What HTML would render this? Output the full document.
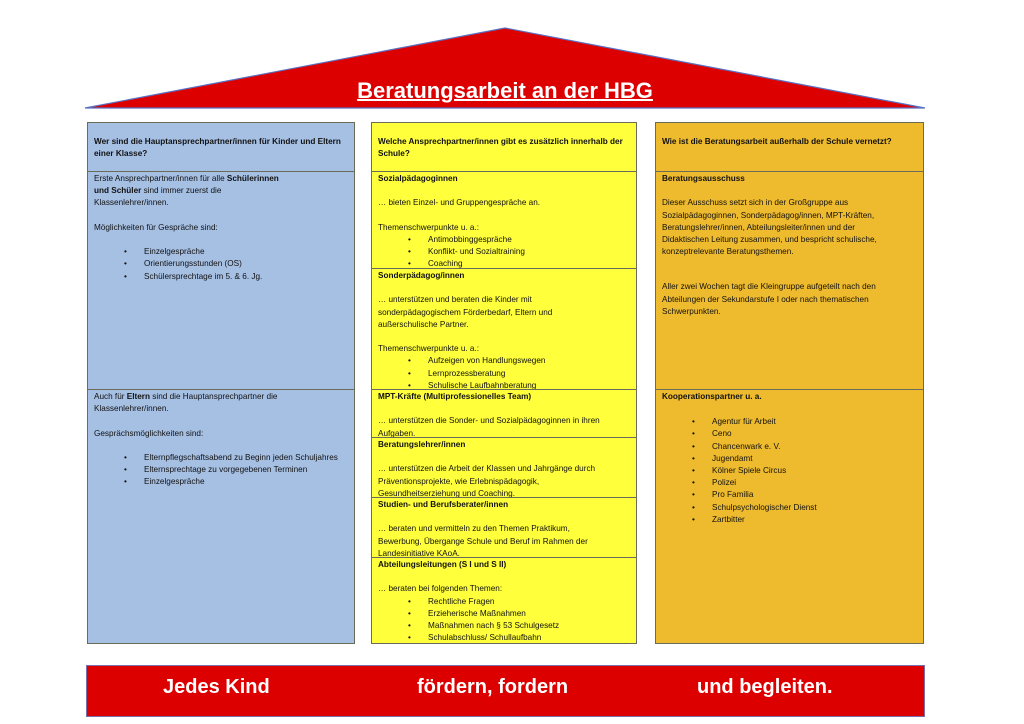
<!DOCTYPE html>
<html><head><meta charset="utf-8"><style>
body{margin:0;width:1024px;height:724px;background:#fff;position:relative;overflow:hidden;font-family:"Liberation Sans",sans-serif;color:#111}
.c{position:absolute;box-sizing:border-box;border:1px solid #6b6b5a;font-size:8.2px;line-height:12.2px;padding:1px 6px 0 6px;overflow:hidden}
.b{background:#a6c0e4}.y{background:#ffff3c}.o{background:#efbb2e}
.h{padding-top:13px;font-weight:bold}
b{font-weight:bold}
.li{position:relative;padding-left:50px}
.li:before{content:"•";position:absolute;left:30px}
.sp{height:12.2px}
.ban{position:absolute;left:86px;top:665px;width:839px;height:52px;background:#dd0000;border:1px solid #7a6fa8;box-sizing:border-box;color:#fff;font-weight:bold;font-size:20px}
.ban span{position:absolute;top:10px}
</style></head><body>
<svg width="1024" height="120" style="position:absolute;left:0;top:0">
<polygon points="85,108 505,28 925,108" fill="#dd0000" stroke="#5a6fc0" stroke-width="1.2"/>
</svg>
<div style="position:absolute;left:0;width:1010px;top:78px;text-align:center;color:#fff;font-weight:bold;font-size:22px;text-decoration:underline;text-decoration-thickness:2px">Beratungsarbeit an der HBG</div>

<!-- left -->
<div class="c b h" style="left:87px;top:122px;width:268px;height:50px">Wer sind die Hauptansprechpartner/innen für Kinder und Eltern einer Klasse?</div>
<div class="c b" style="left:87px;top:171px;width:268px;height:219px">Erste Ansprechpartner/innen für alle <b>Schülerinnen<br>und Schüler</b> sind immer zuerst die<br>Klassenlehrer/innen.<div class="sp"></div>Möglichkeiten für Gespräche sind:<div class="sp"></div><div class="li">Einzelgespräche</div><div class="li">Orientierungsstunden (OS)</div><div class="li">Schülersprechtage im 5. &amp; 6. Jg.</div></div>
<div class="c b" style="left:87px;top:389px;width:268px;height:255px">Auch für <b>Eltern</b> sind die Hauptansprechpartner die<br>Klassenlehrer/innen.<div class="sp"></div>Gesprächsmöglichkeiten sind:<div class="sp"></div><div class="li">Elternpflegschaftsabend zu Beginn jeden Schuljahres</div><div class="li">Elternsprechtage zu vorgegebenen Terminen</div><div class="li">Einzelgespräche</div></div>

<!-- middle -->
<div class="c y h" style="left:371px;top:122px;width:266px;height:50px">Welche Ansprechpartner/innen gibt es zusätzlich innerhalb der Schule?</div>
<div class="c y" style="left:371px;top:171px;width:266px;height:98px"><b>Sozialpädagoginnen</b><div class="sp"></div>… bieten Einzel- und Gruppengespräche an.<div class="sp"></div>Themenschwerpunkte u. a.:<div class="li">Antimobbinggespräche</div><div class="li">Konflikt- und Sozialtraining</div><div class="li">Coaching</div></div>
<div class="c y" style="left:371px;top:268px;width:266px;height:122px"><b>Sonderpädagog/innen</b><div class="sp"></div>… unterstützen und beraten die Kinder mit<br>sonderpädagogischem Förderbedarf, Eltern und<br>außerschulische Partner.<div class="sp"></div>Themenschwerpunkte u. a.:<div class="li">Aufzeigen von Handlungswegen</div><div class="li">Lernprozessberatung</div><div class="li">Schulische Laufbahnberatung</div></div>
<div class="c y" style="left:371px;top:389px;width:266px;height:49px"><b>MPT-Kräfte (Multiprofessionelles Team)</b><div class="sp"></div>… unterstützen die Sonder- und Sozialpädagoginnen in ihren<br>Aufgaben.</div>
<div class="c y" style="left:371px;top:437px;width:266px;height:61px"><b>Beratungslehrer/innen</b><div class="sp"></div>… unterstützen die Arbeit der Klassen und Jahrgänge durch<br>Präventionsprojekte, wie Erlebnispädagogik,<br>Gesundheitserziehung und Coaching.</div>
<div class="c y" style="left:371px;top:497px;width:266px;height:61px"><b>Studien- und Berufsberater/innen</b><div class="sp"></div>… beraten und vermitteln zu den Themen Praktikum,<br>Bewerbung, Übergange Schule und Beruf im Rahmen der<br>Landesinitiative KAoA.</div>
<div class="c y" style="left:371px;top:557px;width:266px;height:87px"><b>Abteilungsleitungen (S I und S II)</b><div class="sp"></div>… beraten bei folgenden Themen:<div class="li">Rechtliche Fragen</div><div class="li">Erzieherische Maßnahmen</div><div class="li">Maßnahmen nach § 53 Schulgesetz</div><div class="li">Schulabschluss/ Schullaufbahn</div></div>

<!-- right -->
<div class="c o h" style="left:655px;top:122px;width:269px;height:50px">Wie ist die Beratungsarbeit außerhalb der Schule vernetzt?</div>
<div class="c o" style="left:655px;top:171px;width:269px;height:219px"><b>Beratungsausschuss</b><div class="sp"></div>Dieser Ausschuss setzt sich in der Großgruppe aus<br>Sozialpädagoginnen, Sonderpädagog/innen, MPT-Kräften,<br>Beratungslehrer/innen, Abteilungsleiter/innen und der<br>Didaktischen Leitung zusammen, und bespricht schulische,<br>konzeptrelevante Beratungsthemen.<div style="height:23px"></div>Aller zwei Wochen tagt die Kleingruppe aufgeteilt nach den<br>Abteilungen der Sekundarstufe I oder nach thematischen<br>Schwerpunkten.</div>
<div class="c o" style="left:655px;top:389px;width:269px;height:255px"><b>Kooperationspartner u. a.</b><div style="height:13px"></div><div class="li">Agentur für Arbeit</div><div class="li">Ceno</div><div class="li">Chancenwark e. V.</div><div class="li">Jugendamt</div><div class="li">Kölner Spiele Circus</div><div class="li">Polizei</div><div class="li">Pro Familia</div><div class="li">Schulpsychologischer Dienst</div><div class="li">Zartbitter</div></div>

<div class="ban"><span style="left:76px">Jedes Kind</span><span style="left:330px">fördern, fordern</span><span style="left:610px">und begleiten.</span></div>
</body></html>
